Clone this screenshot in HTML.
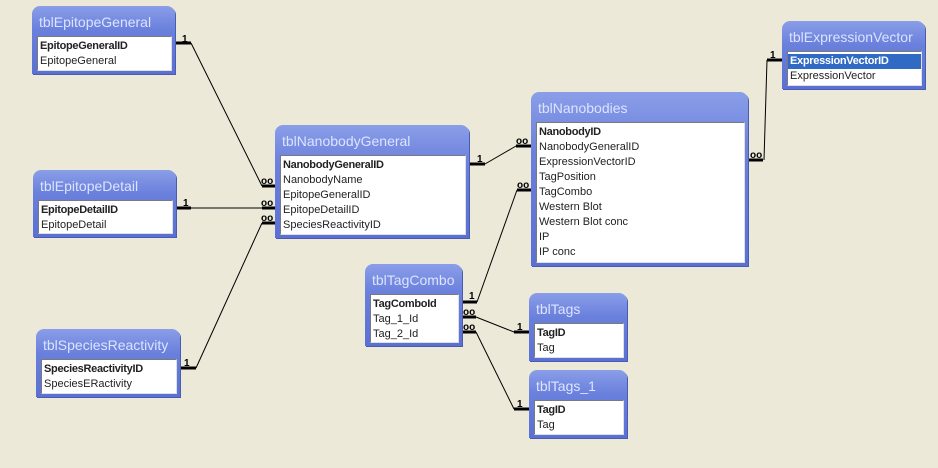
<!DOCTYPE html>
<html><head><style>
body{margin:0;width:938px;height:468px;background:#ece9d8;position:relative;overflow:hidden;font-family:"Liberation Sans",sans-serif;}
.t{position:absolute;background:linear-gradient(#8a9ee8,#6a80dc 35%,#5a70d4);border-radius:8px 8px 0 0;box-shadow:1px 1px 0 #4a5cb0;}
.t .h{position:absolute;left:7px;top:8px;color:#dce4ff;font-size:14px;white-space:nowrap;font-family:"Liberation Sans",sans-serif;}
.t .l{position:absolute;left:5px;right:3px;top:30px;bottom:3px;background:#fff;border:1px solid #7a7a7a;border-right-color:#e0e0e0;border-bottom-color:#e0e0e0;overflow:hidden;padding-top:2px;}
.t .l div{font-size:11px;line-height:15px;height:15px;padding-left:2px;color:#222;white-space:nowrap;}
.t .l div.b{font-weight:bold;letter-spacing:-0.3px;}
.sel{background:#316ac5;color:#fff!important;}
svg{position:absolute;left:0;top:0;}
svg text{font-family:"Liberation Sans",sans-serif;font-size:10px;font-weight:bold;fill:#000;}
</style></head><body>
<svg width="938" height="468">
<g stroke="#000" fill="none">
<path d="M175 43H191" stroke-width="3"/><path d="M191 43L262 186" stroke-width="1"/><path d="M262 186H275" stroke-width="3"/>
<path d="M176 208H191" stroke-width="3"/><path d="M191 208H262" stroke-width="1"/><path d="M262 208H275" stroke-width="3"/>
<path d="M180 368H196" stroke-width="3"/><path d="M196 368L262 223" stroke-width="1"/><path d="M262 223H275" stroke-width="3"/>
<path d="M469 164H485" stroke-width="3"/><path d="M485 164L516 146" stroke-width="1"/><path d="M516 146H531" stroke-width="3"/>
<path d="M462 302H477" stroke-width="3"/><path d="M477 302L517 190" stroke-width="1"/><path d="M517 190H531" stroke-width="3"/>
<path d="M747 160H763" stroke-width="3"/><path d="M764 160L767 60" stroke-width="1"/><path d="M767 60H782" stroke-width="3"/>
<path d="M462 317H476" stroke-width="3"/><path d="M476 317L514 332" stroke-width="1"/><path d="M514 332H529" stroke-width="3"/>
<path d="M462 332H476" stroke-width="3"/><path d="M476 332L514 409" stroke-width="1"/><path d="M514 409H529" stroke-width="3"/>
</g>
<text x="182" y="42">1</text>
<text x="261" y="184">oo</text>
<text x="183" y="206">1</text>
<text x="261" y="206">oo</text>
<text x="261" y="221">oo</text>
<text x="184" y="366">1</text>
<text x="477" y="162">1</text>
<text x="516" y="144">oo</text>
<text x="517" y="188">oo</text>
<text x="469" y="299">1</text>
<text x="463" y="315">oo</text>
<text x="463" y="330">oo</text>
<text x="517" y="330">1</text>
<text x="517" y="407">1</text>
<text x="770" y="58">1</text>
<text x="750" y="158">oo</text>
</svg>

<div class="t" style="left:32px;top:6px;width:143px;height:68px"><div class="h">tblEpitopeGeneral</div><div class="l"><div class="b">EpitopeGeneralID</div><div>EpitopeGeneral</div></div></div>
<div class="t" style="left:33px;top:170px;width:143px;height:67px"><div class="h">tblEpitopeDetail</div><div class="l"><div class="b">EpitopeDetailID</div><div>EpitopeDetail</div></div></div>
<div class="t" style="left:36px;top:329px;width:144px;height:68px"><div class="h">tblSpeciesReactivity</div><div class="l"><div class="b">SpeciesReactivityID</div><div>SpeciesERactivity</div></div></div>
<div class="t" style="left:275px;top:125px;width:194px;height:113px"><div class="h">tblNanobodyGeneral</div><div class="l"><div class="b">NanobodyGeneralID</div><div>NanobodyName</div><div>EpitopeGeneralID</div><div>EpitopeDetailID</div><div>SpeciesReactivityID</div></div></div>
<div class="t" style="left:531px;top:92px;width:217px;height:174px"><div class="h">tblNanobodies</div><div class="l"><div class="b">NanobodyID</div><div>NanobodyGeneralID</div><div>ExpressionVectorID</div><div>TagPosition</div><div>TagCombo</div><div>Western Blot</div><div>Western Blot conc</div><div>IP</div><div>IP conc</div></div></div>
<div class="t" style="left:782px;top:21px;width:143px;height:68px"><div class="h">tblExpressionVector</div><div class="l"><div class="b sel">ExpressionVectorID</div><div>ExpressionVector</div></div></div>
<div class="t" style="left:365px;top:264px;width:97px;height:82px"><div class="h">tblTagCombo</div><div class="l"><div class="b">TagComboId</div><div>Tag_1_Id</div><div>Tag_2_Id</div></div></div>
<div class="t" style="left:529px;top:293px;width:98px;height:68px"><div class="h">tblTags</div><div class="l"><div class="b">TagID</div><div>Tag</div></div></div>
<div class="t" style="left:529px;top:370px;width:98px;height:68px"><div class="h">tblTags_1</div><div class="l"><div class="b">TagID</div><div>Tag</div></div></div>
</body></html>
